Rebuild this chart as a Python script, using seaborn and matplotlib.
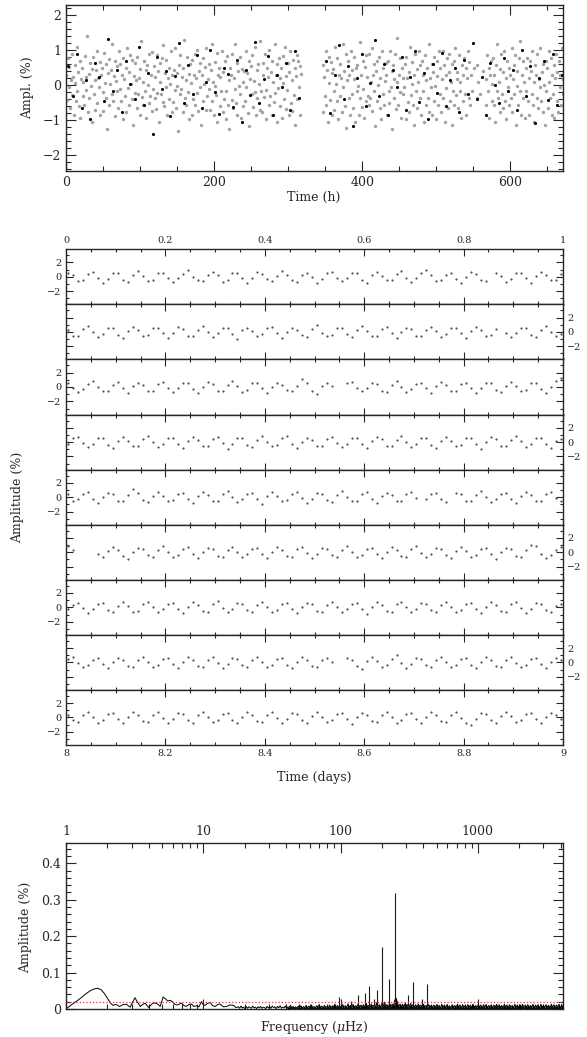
import numpy as np
import pandas as pd
import matplotlib
matplotlib.use("Agg")
import matplotlib.pyplot as plt
import seaborn as sns
from matplotlib.ticker import MultipleLocator, FuncFormatter, LogLocator, NullFormatter

nan = float("nan")

# ---- full light curve (hourly readings of the cloud, % amplitude) ----
top_gray = [
    0.27,-0.43,0.76,-0.08,0.51,-0.66,0.13,0.88,-0.29,0.21,-0.86,0.57,0.04,-0.47,1.07,-0.18,0.36,-0.61,0.69,-0.94,0.17,0.48,-0.32,0.09,
    -0.58,0.83,0.22,-0.16,1.38,-0.77,0.31,-0.39,0.62,-0.03,-1.06,0.46,0.79,-0.27,0.12,-0.71,0.43,0.96,-0.52,0.19,-0.07,0.66,-0.87,0.28,
    0.47,-0.21,-0.74,0.91,0.06,-0.37,0.58,-1.27,0.33,0.74,-0.57,0.02,0.41,-0.26,1.16,-0.48,0.24,0.67,-0.89,0.11,-0.18,0.52,-0.68,0.97,
    -0.12,0.59,-0.46,0.28,-0.98,0.77,0.16,-0.31,0.49,-0.79,1.04,-0.09,0.37,-0.57,0.86,0.03,-0.41,0.72,-1.16,0.26,0.63,-0.23,0.14,-0.66,
    0.79,-0.28,0.18,-0.87,0.46,1.24,-0.36,0.07,-0.58,0.68,-0.17,0.42,-0.96,0.57,-0.02,-0.51,0.87,-0.33,0.29,-0.76,0.93,-0.11,0.53,-0.38,
    0.23,-0.69,0.84,-0.24,0.38,-1.08,0.61,0.08,-0.27,0.76,-0.49,1.14,-0.62,0.32,-0.06,0.71,-0.86,0.19,0.47,-0.42,0.01,0.97,-0.77,0.27,
    -0.49,0.41,-0.16,1.06,-0.68,0.34,-0.04,-1.33,0.57,-0.28,0.86,-0.13,0.22,-0.79,0.48,1.27,-0.37,0.13,-0.59,0.78,-0.22,0.31,-0.97,0.58,
    0.06,-0.87,0.72,-0.41,0.27,0.89,-0.57,0.18,-0.23,0.98,-0.76,0.38,-0.08,0.63,-1.14,0.29,0.77,-0.48,0.03,0.51,-0.72,1.06,-0.33,0.16,
    0.58,-0.12,-0.71,0.43,1.17,-0.47,0.09,-0.88,0.66,-0.04,-0.29,0.92,-1.07,0.27,0.49,-0.62,0.21,-0.19,0.96,-0.79,0.37,-0.42,0.68,-0.97,
    -0.17,0.82,-0.59,0.12,-1.26,0.49,0.28,-0.43,0.87,-0.68,0.18,1.16,-0.11,-0.52,0.61,-0.87,0.39,-0.03,0.79,-0.27,-0.96,0.46,0.07,-0.61,
    0.38,-0.47,0.97,-0.07,0.32,-0.81,0.69,-1.18,0.16,0.53,-0.26,0.86,-0.63,0.11,-0.21,1.08,-0.88,0.42,-0.38,0.59,0.02,-0.73,1.26,-0.18,
    -0.77,0.28,0.61,-0.36,0.88,-0.14,-0.97,0.47,0.23,-0.57,0.99,-0.31,0.36,-0.86,0.69,0.07,-0.49,1.17,-0.24,0.29,-1.07,0.58,-0.09,0.77,
    0.19,-0.62,0.48,-0.96,0.83,0.04,-0.41,1.07,-0.69,0.26,-0.16,0.62,-0.88,0.37,0.97,-0.53,0.13,-0.76,0.71,-0.29,0.47,-1.16,0.24,0.86,
    -0.42,0.68,-0.08,0.53,-0.87,0.31,nan,nan,nan,nan,nan,nan,nan,nan,nan,nan,nan,nan,nan,nan,nan,nan,nan,nan,
    nan,nan,nan,nan,nan,nan,nan,nan,nan,nan,0.57,-0.79,0.23,-0.31,0.97,-0.58,0.41,-1.06,0.78,0.06,-0.43,0.66,-0.86,0.32,
    0.46,-0.18,-0.72,1.08,0.03,-0.48,0.77,-0.97,0.27,0.58,-0.33,0.19,-0.78,1.17,-0.06,0.38,-0.61,0.87,-1.24,0.12,0.68,-0.39,0.28,-0.87,
    0.96,-0.27,0.43,-0.68,0.17,0.79,-1.07,0.47,-0.18,0.57,-0.04,-0.86,1.22,-0.37,0.29,-0.63,0.68,-0.12,-0.96,0.51,0.86,-0.47,0.21,-0.32,
    -0.57,0.87,-0.38,0.08,1.06,-0.76,0.27,-0.19,0.58,-1.17,0.39,0.67,-0.48,-0.02,0.78,-0.66,0.18,-0.97,0.96,-0.28,0.49,-0.59,0.11,0.63,
    0.29,-0.86,0.68,-0.17,-0.51,0.97,-0.08,0.38,-1.26,0.57,0.16,-0.37,0.88,-0.69,0.07,1.33,-0.58,0.27,-0.21,0.77,-0.96,0.48,-0.28,0.18,
    -0.06,0.58,-0.97,0.79,0.18,-0.49,0.37,-0.77,1.07,-0.29,0.03,0.66,-0.57,0.28,-1.16,0.87,-0.19,0.46,-0.68,0.09,0.96,-0.38,0.57,-0.86,
    0.67,-0.17,0.28,-1.06,0.86,-0.58,0.12,0.47,-0.39,1.16,-0.77,0.18,-0.07,0.58,-0.87,0.37,0.78,-0.47,-0.03,-0.97,0.68,0.26,-0.57,0.96,
    -0.27,0.49,-0.78,0.17,0.96,-0.38,0.57,-1.07,0.28,-0.09,0.77,-0.67,0.36,0.87,-0.48,0.08,-1.16,0.58,-0.18,0.68,-0.57,1.06,-0.29,0.17,
    0.37,-0.68,0.86,-0.18,0.07,-0.96,0.57,0.27,-0.47,0.76,-0.28,0.48,-0.87,0.19,0.97,-0.38,0.66,-0.57,0.28,nan,-0.17,nan,nan,0.47,
    nan,nan,0.57,-0.37,0.08,nan,nan,-0.28,nan,nan,0.38,nan,nan,nan,0.17,-0.58,0.86,-0.18,0.47,-0.96,0.27,0.67,-0.48,0.02,
    0.77,-0.57,0.28,-1.06,0.57,-0.17,1.16,-0.38,0.07,-0.77,0.46,0.87,-0.28,-0.67,0.37,0.96,-0.48,0.18,-0.97,0.67,-0.08,0.47,-0.58,0.27,
    -0.37,1.06,-0.77,0.17,0.57,-0.28,0.86,-1.16,0.38,-0.03,-0.58,0.77,-0.18,1.26,-0.87,0.28,-0.38,0.67,0.08,-0.96,0.48,-0.17,0.76,-0.48,
    0.18,-0.87,0.67,0.38,-0.27,0.96,-0.57,0.08,-1.06,0.57,0.27,-0.38,0.87,-0.67,0.17,-0.08,1.06,-0.48,0.37,-0.77,0.58,-0.02,-1.16,0.67,
    -0.18,0.48,-0.67,0.96,0.07,-0.38,0.77,-0.87,0.28,-0.27,0.57,-0.96,0.18,0.87,-0.48,0.37,-0.77,0.67,-0.08,0.27,-0.57,1.06,-0.28,0.17,
]
# second site, one reading every 6 h starting at 3 h
top_black = [
    0.52,-0.31,0.88,-0.67,0.14,-0.97,0.61,0.23,-0.48,1.31,-0.19,0.42,-0.78,0.69,0.03,-0.41,1.08,-0.57,0.33,-1.42,
    0.79,-0.12,0.38,-0.91,0.24,1.18,-0.53,0.57,-0.27,0.86,-0.68,0.09,0.98,-0.22,-0.83,0.47,0.31,-0.63,0.72,-1.08,
    0.43,-0.29,1.21,-0.52,0.17,0.81,-0.87,0.28,-0.07,0.63,-0.71,0.97,-0.38,
    nan,nan,nan,nan,nan,
    0.68,-0.82,0.27,1.13,-0.41,0.53,-1.19,0.18,0.87,-0.62,0.04,1.28,-0.33,0.59,-0.88,0.41,-0.08,0.78,-0.73,0.21,0.97,-0.49,
    0.32,-0.98,0.58,-0.23,0.91,-0.61,0.13,0.48,-0.79,0.71,-0.28,1.19,-0.42,0.22,-0.87,0.62,-0.02,-0.53,0.77,-0.18,
    0.41,-0.72,0.98,-0.31,0.52,-1.09,0.19,0.69,-0.43,0.88,-0.58,0.29,
]
gray_step_h = 1.0
black_start_h, black_step_h = 3.0, 6.0

# ---- first nine days, one row per day ----
day_rows = [
    [0.5,0.2,-0.6,-0.4,0.4,0.7,-0.1,-0.8,-0.3,0.6,0.5,-0.4,-0.7,0.2,0.8,0.1,-0.6,-0.5,0.5,0.6,
     -0.1,-0.7,-0.2,0.4,0.9,0.0,-0.5,-0.6,0.3,0.7,0.2,-0.7,-0.4,0.5,0.6,-0.2,-0.9,-0.1,0.7,0.4,
     -0.3,-0.6,0.1,0.8,0.3,-0.5,-0.7,0.3,0.6,0.0,-0.8,-0.3,0.5,0.7,-0.2,-0.6,-0.1,0.6,0.5,-0.4,
     -0.8,0.2,0.7,0.1,-0.5,-0.4,0.4,0.8,-0.1,-0.7,-0.2,0.5,0.9,0.2,-0.6,-0.5,0.3,0.6,-0.3,-0.8,
     0.0,0.7,0.4,-0.4,-0.6,nan,0.6,0.1,-0.7,-0.3,0.5,0.6,-0.2,-0.8,0.1,0.7,0.3,-0.5,-0.4,0.4],
    [0.3,-0.5,-0.6,0.4,0.8,0.0,-0.7,-0.3,0.6,0.5,-0.4,-0.9,0.1,0.7,0.2,-0.6,-0.4,0.5,0.6,-0.2,
     -0.8,-0.1,0.7,0.4,-0.5,-0.6,0.3,0.8,0.0,-0.7,-0.2,0.6,0.5,-0.3,-1.0,0.2,0.6,0.1,-0.6,-0.3,
     0.5,0.7,-0.2,-0.8,0.0,0.6,0.3,-0.4,-0.7,0.4,0.9,-0.1,-0.6,-0.4,0.5,0.6,-0.3,-0.7,0.2,0.8,
     0.1,-0.6,-0.5,0.4,0.7,-0.2,-0.8,0.0,0.6,0.4,-0.5,-0.6,0.3,0.7,0.1,-0.7,-0.3,0.5,0.6,-0.2,
     -0.9,0.1,0.7,0.3,-0.6,-0.4,0.4,nan,-0.1,-0.7,-0.2,0.6,0.5,-0.4,-0.7,0.3,0.8,0.0,-0.6,-0.3],
    [0.6,-0.1,-0.7,-0.3,0.4,0.9,0.0,-0.6,-0.5,0.3,0.7,-0.2,-0.8,0.1,0.6,0.3,-0.5,-0.6,0.4,0.7,
     -0.1,-0.7,-0.2,0.5,0.6,-0.3,-0.8,0.0,0.7,0.4,-0.5,-0.5,0.3,0.8,0.1,-0.7,-0.4,0.5,0.6,-0.2,
     -0.9,0.0,0.6,0.3,-0.4,-0.6,0.2,1.1,0.5,-0.6,-1.0,0.1,0.6,0.2,nan,nan,0.5,0.7,-0.2,-0.6,
     -0.1,0.6,0.4,-0.5,-0.7,0.3,0.8,0.0,-0.7,-0.3,0.4,0.6,-0.2,-0.8,0.1,0.7,0.3,-0.5,-0.6,0.4,
     0.6,-0.2,-0.9,-0.1,0.6,0.5,-0.4,-0.7,0.2,0.7,0.1,-0.6,-0.4,0.5,0.6,-0.3,-0.8,0.0,0.9,1.2],
    [-0.2,0.5,0.7,-0.1,-0.7,-0.3,0.6,0.6,-0.4,-0.8,0.2,0.7,0.2,-0.6,-0.5,0.4,0.8,0.0,-0.7,-0.2,
     0.5,0.6,-0.3,-0.8,0.1,0.7,0.3,-0.5,-0.6,0.4,0.7,-0.1,-0.9,-0.2,0.6,0.5,-0.4,-0.7,0.3,0.8,
     0.0,-0.6,-0.4,0.5,0.9,-0.2,-0.8,0.0,0.6,0.3,-0.5,-0.6,0.4,0.7,-0.1,-0.7,-0.3,0.5,0.6,-0.2,
     -0.8,0.1,0.7,0.4,-0.5,-0.6,0.3,0.8,0.0,-0.7,-0.2,0.6,0.5,-0.4,-0.8,0.2,0.7,0.1,-0.6,-0.4,
     0.5,0.6,-0.2,-0.9,0.0,0.7,0.4,-0.5,-0.6,0.3,0.8,0.1,-0.7,-0.3,0.5,0.6,-0.3,-0.8,0.1,0.4],
    [0.4,-0.6,-0.3,0.5,0.7,-0.2,-0.8,0.0,0.6,0.4,-0.5,-0.6,0.3,1.2,0.6,-0.4,-0.7,0.2,0.7,0.1,
     -0.6,-0.4,0.5,0.6,-0.3,-0.8,0.1,0.7,0.3,-0.5,-0.5,0.4,0.8,0.0,-0.7,-0.2,0.5,0.6,-0.3,-0.9,
     0.1,0.7,0.2,-0.6,-0.4,0.4,0.7,-0.1,-0.8,-0.2,0.6,0.5,-0.4,-0.7,0.3,0.8,0.0,-0.6,-0.5,0.4,
     0.7,-0.2,-0.8,0.1,0.6,0.3,-0.5,-0.6,0.4,0.7,-0.1,nan,-0.3,0.5,0.6,-0.2,-0.7,nan,0.6,0.4,
     -0.5,-0.6,0.3,0.8,0.0,-0.7,-0.3,0.5,0.6,-0.2,-0.8,0.1,0.7,0.3,-0.5,-0.5,0.4,0.7,-0.1,-0.6],
    [0.9,0.3,nan,nan,nan,nan,-0.3,-0.7,0.2,0.7,0.3,-0.5,-0.9,0.1,0.6,0.4,-0.4,-0.7,0.3,0.8,
     0.0,-0.6,-0.4,0.5,0.7,-0.2,-0.8,0.0,0.6,0.4,-0.5,-0.6,0.3,0.7,0.1,-0.7,-0.3,0.5,0.6,-0.2,
     -0.8,0.1,0.7,0.3,-0.5,-0.6,0.4,0.7,-0.1,-0.8,-0.2,0.6,0.5,-0.4,-0.7,0.3,0.8,0.0,-0.6,-0.4,
     0.5,0.6,-0.3,-0.8,0.1,0.7,0.3,-0.5,-0.6,0.4,0.8,-0.1,-0.7,-0.2,0.6,0.5,-0.4,-0.8,0.2,0.7,
     0.2,-0.6,-0.4,0.5,0.6,-0.2,-0.9,0.0,0.6,0.4,-0.5,-0.6,0.3,1.0,0.8,-0.3,-0.8,-0.4,0.3,0.7],
    [-0.3,0.3,0.6,-0.1,-0.8,-0.2,0.5,0.6,-0.4,-0.7,0.2,0.7,0.2,-0.6,-0.5,0.4,0.7,0.0,-0.7,-0.3,
     0.5,0.6,-0.2,-0.8,0.1,0.7,0.3,-0.5,-0.6,0.4,0.9,-0.1,-0.7,-0.2,0.6,0.5,-0.4,-0.7,0.3,0.8,
     0.0,-0.7,-0.4,0.5,0.6,-0.2,-0.8,0.0,0.6,0.4,-0.5,-0.6,0.3,0.7,0.1,-0.7,-0.3,0.5,0.6,-0.2,
     -0.9,0.1,0.7,0.3,-0.5,-0.6,0.4,0.8,0.0,-0.7,-0.2,0.6,0.5,-0.4,-0.7,0.3,0.7,0.1,-0.6,-0.4,
     0.5,0.6,-0.3,-0.8,0.1,0.7,0.3,-0.5,-0.6,0.4,0.7,-0.1,-0.8,-0.2,0.6,0.5,-0.4,-0.7,0.2,0.5],
    [0.5,0.7,-0.1,-0.7,-0.3,0.4,0.6,-0.2,-0.8,0.0,0.6,0.4,-0.5,-0.6,0.3,0.8,0.1,-0.7,-0.3,0.5,
     0.6,-0.2,-0.8,0.0,0.7,0.3,-0.5,-0.6,0.4,0.7,-0.1,-0.8,-0.2,0.6,0.5,-0.4,-0.7,0.3,0.7,0.1,
     -0.6,-0.4,0.5,0.6,-0.3,-0.8,0.1,0.7,0.3,-0.5,-0.6,0.4,0.6,0.0,nan,nan,0.6,0.3,-0.5,-0.9,
     0.2,0.8,0.2,-0.6,-0.4,0.5,1.0,-0.1,-0.8,-0.2,0.6,0.5,-0.4,-0.7,0.3,0.7,0.1,-0.6,-0.4,0.5,
     0.6,-0.3,-0.8,0.1,0.7,0.3,-0.5,-0.6,0.4,0.7,-0.1,-0.7,-0.3,0.5,0.6,-0.2,-0.8,0.0,0.6,0.3],
    [0.4,-0.4,-0.6,0.3,0.7,0.0,-0.7,-0.3,0.5,0.6,-0.2,-0.8,0.1,0.7,0.3,-0.5,-0.6,0.4,0.8,-0.1,
     -0.7,-0.2,0.6,0.5,-0.4,-0.7,0.3,0.7,0.1,-0.6,-0.4,0.5,0.6,-0.3,-0.8,0.1,0.7,0.3,-0.5,-0.6,
     0.4,0.7,-0.1,-0.8,-0.2,0.6,0.5,-0.4,-0.7,0.2,0.7,0.1,-0.6,-0.4,0.5,0.6,-0.2,-0.9,0.0,0.6,
     0.4,-0.5,-0.6,0.3,0.7,0.1,-0.7,-0.3,0.5,0.6,-0.2,-0.8,0.1,0.7,0.3,-0.5,-0.6,0.4,0.8,-0.1,
     -0.7,-1.1,-0.2,0.6,0.5,-0.3,-0.7,0.2,0.7,0.2,-0.6,-0.4,0.5,0.6,-0.2,-0.8,0.0,0.6,0.4,-0.2],
]

# ---- amplitude spectrum ----
low_freq = [1.0,1.1,1.2,1.3,1.4,1.5,1.6,1.7,1.8,1.9,2.0,2.1,2.2,2.3,2.45,2.6,2.75,2.93,3.05,3.18,
            3.3,3.47,3.65,3.77,3.9,4.0,4.2,4.37,4.55,4.67,4.85,5.1,5.3,5.5,5.75,6.0,6.25,6.5,6.9,7.2,
            7.5,7.85,8.2,8.5,8.9,9.3,9.7,10.0,10.3,10.7,11.2,11.7,12.2,12.7,13.2,14.0,14.8,15.6,16.6,17.3]
low_amp = [0.0,0.012,0.022,0.032,0.042,0.050,0.055,0.057,0.053,0.043,0.030,0.017,0.010,0.013,0.007,0.012,0.013,0.005,0.018,0.031,
           0.020,0.007,0.013,0.016,0.009,0.004,0.013,0.017,0.015,0.013,0.007,0.033,0.028,0.022,0.024,0.019,0.012,0.011,0.016,0.010,
           0.007,0.012,0.014,0.007,0.009,0.006,0.020,0.012,0.010,0.015,0.018,0.009,0.007,0.012,0.014,0.006,0.007,0.011,0.010,0.004]
# noise floor, read on an even log grid from 18 uHz up to the Nyquist frequency
noise_lo, noise_hi = 18.0, 4167.0
noise_amp = [
    0.006,0.002,0.008,0.003,0.005,0.001,0.007,0.002,0.006,0.004,0.002,0.008,0.003,0.005,0.001,0.006,0.003,0.007,0.002,0.005,0.004,0.001,0.007,0.003,0.006,
    0.002,0.008,0.004,0.006,0.001,0.007,0.003,0.009,0.002,0.005,0.003,0.008,0.002,0.006,0.004,0.010,0.002,0.007,0.003,0.006,0.001,0.008,0.004,0.009,0.002,
    0.007,0.003,0.010,0.002,0.008,0.004,0.011,0.003,0.007,0.002,0.009,0.005,0.012,0.003,0.008,0.002,0.010,0.004,0.007,0.003,0.011,0.002,0.009,0.005,0.013,
    0.003,0.010,0.004,0.008,0.002,0.012,0.004,0.009,0.003,0.014,0.005,0.010,0.003,0.013,0.004,0.009,0.006,0.015,0.003,0.011,0.005,0.012,0.004,0.016,0.006,
    0.010,0.004,0.014,0.005,0.011,0.003,0.017,0.006,0.012,0.004,0.015,0.005,0.019,0.007,0.012,0.004,0.016,0.006,0.013,0.009,0.024,0.030,0.016,0.006,0.014,
    0.006,0.013,0.005,0.016,0.007,0.012,0.004,0.015,0.006,0.013,0.005,0.012,0.004,0.014,0.006,0.011,0.004,0.013,0.005,0.010,0.003,0.012,0.005,0.011,0.004,
    0.011,0.003,0.012,0.005,0.010,0.002,0.013,0.004,0.011,0.003,0.012,0.005,0.009,0.002,0.012,0.004,0.010,0.003,0.013,0.005,0.011,0.002,0.012,0.004,0.010,
    0.003,0.012,0.005,0.011,0.002,0.013,0.004,0.010,0.003,0.012,0.005,0.011,0.002,0.012,0.004,0.013,0.003,0.010,0.005,0.012,0.002,0.011,0.004,0.013,0.003,
    0.012,0.004,0.010,0.002,0.013,0.005,0.011,0.003,0.012,0.004,0.010,0.002,0.013,0.005,0.011,0.003,0.012,0.004,0.013,0.002,0.011,0.005,0.012,0.003,0.010,
    0.004,0.013,0.003,0.011,0.005,0.012,0.002,0.013,0.004,0.011,0.003,0.012,0.005,0.010,0.002,0.013,0.004,0.012,0.003,0.011,0.005,0.013,0.002,0.012,0.004,
]
peak_freq = [97, 120, 135, 150, 162, 175, 185, 200, 227, 251, 309, 336, 393, 429]
peak_amp = [0.034, 0.022, 0.039, 0.043, 0.063, 0.028, 0.051, 0.169, 0.083, 0.319, 0.038, 0.074, 0.027, 0.068]
threshold = 0.018

sns.set_style("ticks")
plt.rcParams["font.family"] = ["DejaVu Serif"]
plt.rcParams["mathtext.fontset"] = "dejavuserif"
plt.rcParams["axes.linewidth"] = 1.0


def gfmt(v, pos):
    return f"{v:g}".replace("-", "\u2212")


fig = plt.figure(figsize=(5.87, 10.37), dpi=100)
L, W = 66 / 587, 497 / 587

# ---------- top: whole run ----------
ax = fig.add_axes([L, 1 - 170.7 / 1037, W, 165.4 / 1037])
g = np.array(top_gray, dtype=float)
df_g = pd.DataFrame({"t": np.arange(len(g)) * gray_step_h + 0.5, "amp": g})
b = np.array(top_black, dtype=float)
df_b = pd.DataFrame({"t": black_start_h + np.arange(len(b)) * black_step_h, "amp": b})
sns.scatterplot(data=df_g, x="t", y="amp", s=6, color="#a2a2a2", linewidth=0, ax=ax, legend=False)
sns.scatterplot(data=df_b, x="t", y="amp", s=5, color="black", linewidth=0, ax=ax, legend=False)
ax.set_xlim(0, 671)
ax.set_ylim(-2.46, 2.27)
ax.xaxis.set_major_locator(MultipleLocator(200))
ax.xaxis.set_minor_locator(MultipleLocator(50))
ax.yaxis.set_major_locator(MultipleLocator(1))
ax.yaxis.set_minor_locator(MultipleLocator(0.2))
ax.xaxis.set_major_formatter(FuncFormatter(gfmt))
ax.yaxis.set_major_formatter(FuncFormatter(gfmt))
ax.tick_params(which="both", direction="in", top=True, right=True, labelsize=9, width=0.8)
ax.tick_params(which="major", length=7)
ax.tick_params(which="minor", length=3.5)
ax.set_xlabel("")
ax.set_ylabel("")
fig.text(28 / 587, 1 - 88 / 1037, "Ampl. (%)", rotation=90, ha="center", va="center", fontsize=9)
fig.text(314 / 587, 1 - 197 / 1037, "Time (h)", ha="center", va="center", fontsize=9)

# ---------- middle: one strip per day ----------
strip_top, strip_h = 249.3, 55.08
for k, row in enumerate(day_rows):
    y0 = 1 - (strip_top + (k + 1) * strip_h) / 1037
    ax = fig.add_axes([L, y0, W, strip_h / 1037])
    vals = np.array(row, dtype=float)
    df = pd.DataFrame({"t": k + (np.arange(len(vals)) + 0.5) / len(vals), "amp": vals})
    sns.scatterplot(data=df, x="t", y="amp", s=2.5, color="#505050", linewidth=0, ax=ax, legend=False)
    ax.set_xlim(k, k + 1)
    ax.set_ylim(-3.83, 3.83)
    ax.xaxis.set_major_locator(MultipleLocator(0.2))
    ax.xaxis.set_minor_locator(MultipleLocator(0.05))
    ax.yaxis.set_major_locator(MultipleLocator(2))
    ax.yaxis.set_minor_locator(MultipleLocator(1))
    ax.xaxis.set_major_formatter(FuncFormatter(gfmt))
    ax.yaxis.set_major_formatter(FuncFormatter(gfmt))
    left_side = (k % 2 == 0)
    ax.tick_params(which="both", direction="in", top=True, right=True, bottom=True, left=True,
                   labelsize=7, width=0.8, labelbottom=(k == len(day_rows) - 1), labeltop=(k == 0),
                   labelleft=left_side, labelright=not left_side, pad=3)
    ax.tick_params(which="major", length=5)
    ax.tick_params(which="minor", length=2.5)
    ax.set_xlabel("")
    ax.set_ylabel("")
fig.text(18 / 587, 1 - 497 / 1037, "Amplitude (%)", rotation=90, ha="center", va="center", fontsize=9)
fig.text(314 / 587, 1 - 777 / 1037, "Time (days)", ha="center", va="center", fontsize=9)

# ---------- bottom: amplitude spectrum ----------
ax = fig.add_axes([L, 1 - 1009 / 1037, W, 165.7 / 1037])
noise_freq = np.geomspace(noise_lo, noise_hi, len(noise_amp))
freq = np.concatenate([low_freq, noise_freq])
amp = np.concatenate([low_amp, noise_amp])
sns.lineplot(x=freq, y=amp, color="black", linewidth=0.7, estimator=None, ax=ax)
ax.fill_between(noise_freq, 0, noise_amp, where=noise_freq > 40, color="black", linewidth=0)
ax.vlines(peak_freq, 0, peak_amp, color="#1a1a1a", linewidth=0.8)
ax.axhline(threshold, color="#d23c3c", linestyle=":", linewidth=0.9)
ax.set_xscale("log")
ax.set_xlim(1, 4167)
ax.set_ylim(0, 0.455)
ax.xaxis.set_major_locator(LogLocator(base=10))
ax.xaxis.set_minor_locator(LogLocator(base=10, subs=np.arange(2, 10)))
ax.xaxis.set_major_formatter(FuncFormatter(gfmt))
ax.xaxis.set_minor_formatter(NullFormatter())
ax.yaxis.set_major_locator(MultipleLocator(0.1))
ax.yaxis.set_minor_locator(MultipleLocator(0.02))
ax.yaxis.set_major_formatter(FuncFormatter(gfmt))
ax.tick_params(which="both", direction="in", top=True, right=True, labelsize=9, width=0.8,
               labeltop=True, labelbottom=False)
ax.tick_params(which="major", length=7)
ax.tick_params(which="minor", length=3.5)
ax.set_xlabel("")
ax.set_ylabel("")
fig.text(26 / 587, 1 - 927 / 1037, "Amplitude (%)", rotation=90, ha="center", va="center", fontsize=9)
fig.text(314 / 587, 1 - 1027 / 1037, r"Frequency ($\mu$Hz)", ha="center", va="center", fontsize=9)

fig.savefig("out.png", dpi=100)
